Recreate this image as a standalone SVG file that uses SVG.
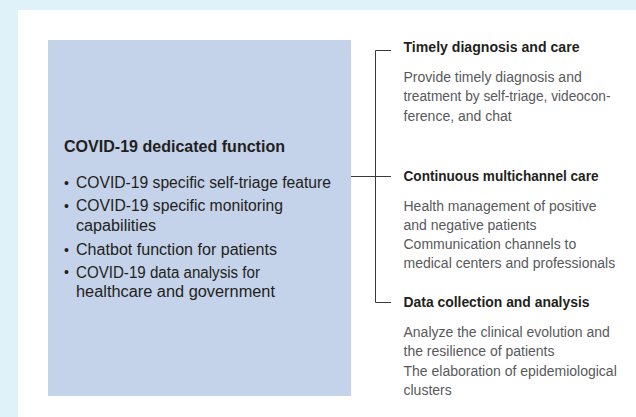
<svg xmlns="http://www.w3.org/2000/svg" width="636" height="417" viewBox="0 0 636 417">
<style>
.ttl{font-family:"Liberation Sans",Arial,sans-serif;font-weight:bold;font-size:14px;fill:#231f20}
.body{font-family:"Liberation Sans",Arial,sans-serif;font-size:14px;fill:#58595b}
.mttl{font-family:"Liberation Sans",Arial,sans-serif;font-weight:bold;font-size:16.5px;fill:#231f20}
.blt{font-family:"Liberation Sans",Arial,sans-serif;font-size:15.6px;fill:#231f20}
.dot{font-family:"Liberation Sans",Arial,sans-serif;font-size:14px;fill:#231f20}
.con{fill:none;stroke:#3a3a3a;stroke-width:1}
</style>
<rect x="0" y="0" width="636" height="417" fill="#dff2fa"/>
<rect x="18" y="10" width="618" height="407" fill="#ffffff"/>
<g id="main">
<rect x="48" y="40" width="303" height="356" fill="#c4d2ea"/>
<text class="mttl" x="64" y="152" textLength="221" lengthAdjust="spacingAndGlyphs">COVID-19 dedicated function</text>
<text class="dot" x="64" y="187.5">•</text>
<text class="blt" x="76" y="188" textLength="255" lengthAdjust="spacingAndGlyphs">COVID-19 specific self-triage feature</text>
<text class="dot" x="64" y="210.5">•</text>
<text class="blt" x="76" y="211" textLength="207" lengthAdjust="spacingAndGlyphs">COVID-19 specific monitoring</text>
<text class="blt" x="76" y="230.5" textLength="80" lengthAdjust="spacingAndGlyphs">capabilities</text>
<text class="dot" x="64" y="254.5">•</text>
<text class="blt" x="76" y="255" textLength="201" lengthAdjust="spacingAndGlyphs">Chatbot function for patients</text>
<text class="dot" x="64" y="277">•</text>
<text class="blt" x="76" y="277.5" textLength="184" lengthAdjust="spacingAndGlyphs">COVID-19 data analysis for</text>
<text class="blt" x="76" y="297" textLength="199" lengthAdjust="spacingAndGlyphs">healthcare and government</text>
</g>
<g id="connectors">
<path class="con" d="M391 50.5H375.5V302.5H391"/>
<path class="con" d="M351 176.5H391"/>
</g>
<g id="timely">
<text class="ttl" x="403.5" y="52" textLength="176" lengthAdjust="spacingAndGlyphs">Timely diagnosis and care</text>
<text class="body" x="403.5" y="82">Provide timely diagnosis and</text>
<text class="body" x="403.5" y="101.3" textLength="207" lengthAdjust="spacingAndGlyphs">treatment by self-triage, videocon-</text>
<text class="body" x="403.5" y="120.6">ference, and chat</text>
</g>
<g id="continuous">
<text class="ttl" x="403.5" y="181" textLength="195" lengthAdjust="spacingAndGlyphs">Continuous multichannel care</text>
<text class="body" x="403.5" y="210.5">Health management of positive</text>
<text class="body" x="403.5" y="229.8">and negative patients</text>
<text class="body" x="403.5" y="249.1">Communication channels to</text>
<text class="body" x="403.5" y="268.4">medical centers and professionals</text>
</g>
<g id="data">
<text class="ttl" x="403.5" y="307" textLength="186" lengthAdjust="spacingAndGlyphs">Data collection and analysis</text>
<text class="body" x="403.5" y="337">Analyze the clinical evolution and</text>
<text class="body" x="403.5" y="356.3">the resilience of patients</text>
<text class="body" x="403.5" y="375.6">The elaboration of epidemiological</text>
<text class="body" x="403.5" y="394.9">clusters</text>
</g>
</svg>
